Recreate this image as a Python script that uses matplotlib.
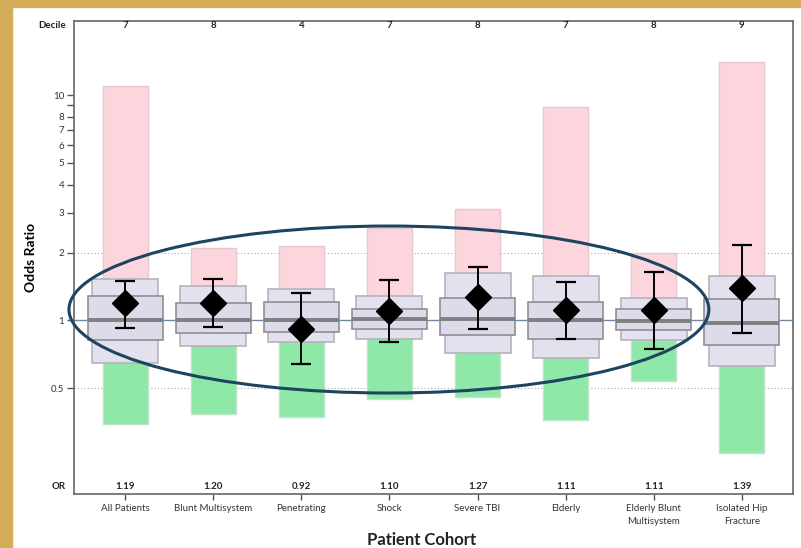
import numpy as np
import matplotlib.pyplot as plt
from matplotlib.patches import Ellipse, Rectangle
from matplotlib.ticker import FixedLocator, NullLocator
import matplotlib.transforms as mtransforms

plt.rcParams['font.family'] = ['Lato', 'DejaVu Sans']

cohorts = ['All Patients', 'Blunt Multisystem', 'Penetrating', 'Shock', 'Severe TBI',
           'Elderly', 'Elderly Blunt\nMultisystem', 'Isolated Hip\nFracture']
deciles = [7, 8, 4, 7, 8, 7, 8, 9]
odds = [1.19, 1.20, 0.92, 1.10, 1.27, 1.11, 1.11, 1.39]
ci_lo = [0.93, 0.94, 0.64, 0.80, 0.92, 0.83, 0.75, 0.88]
ci_hi = [1.50, 1.52, 1.33, 1.51, 1.73, 1.48, 1.64, 2.16]
# range across hospitals (pink = above 1, green = below 1)
range_hi = [10.97, 2.09, 2.13, 2.56, 3.11, 8.88, 1.99, 14.0]
range_lo = [0.346, 0.386, 0.373, 0.450, 0.456, 0.363, 0.541, 0.258]
# outer and inner boxes + median
outer_lo = [0.65, 0.77, 0.80, 0.83, 0.72, 0.68, 0.82, 0.63]
outer_hi = [1.53, 1.42, 1.38, 1.28, 1.62, 1.58, 1.26, 1.58]
inner_lo = [0.82, 0.88, 0.89, 0.92, 0.86, 0.83, 0.91, 0.78]
inner_hi = [1.29, 1.20, 1.21, 1.13, 1.26, 1.21, 1.13, 1.24]
medians = [1.01, 1.00, 1.00, 1.02, 1.02, 1.00, 0.99, 0.97]

fig = plt.figure(figsize=(8.01, 5.48), dpi=100)
fig.patches.append(Rectangle((0, 1 - 7 / 548), 1, 7 / 548, transform=fig.transFigure,
                             color='#d3ad57', zorder=0))
fig.patches.append(Rectangle((0, 0), 12 / 801, 1, transform=fig.transFigure,
                             color='#d3ad57', zorder=0))

ax = fig.add_axes([74 / 801, 1 - 494 / 548, 719 / 801, 473 / 548])
ax.set_yscale('log')
ax.set_ylim(0.170, 21.3)
ax.set_xlim(-0.58, 7.58)

x = np.arange(len(cohorts))
bw = 0.51
ow = 0.75
iw = 0.85

ax.bar(x, np.array(range_hi) - 1, bottom=1, width=bw, color='#fcd5dd',
       edgecolor='#e8c6cd', linewidth=1, zorder=1)
ax.bar(x, 1 - np.array(range_lo), bottom=range_lo, width=bw, color='#8ee8a8',
       edgecolor='#c0e3ca', linewidth=1, zorder=1)

ax.axhline(1, color='#6d8ca5', lw=1, zorder=1.5)
for g in [2, 0.5]:
    ax.axhline(g, color='#aaaaaa', lw=0.8, ls=(0, (1, 2)), zorder=0.5)

ax.bar(x, np.array(outer_hi) - np.array(outer_lo), bottom=outer_lo, width=ow,
       color='#e4e1ef', edgecolor='#b5b3bd', linewidth=1.2, zorder=2)
ax.bar(x, np.array(inner_hi) - np.array(inner_lo), bottom=inner_lo, width=iw,
       color='#dddbea', edgecolor='#8f8e96', linewidth=1.2, zorder=3)
ax.hlines(medians, x - iw / 2, x + iw / 2, color='#808080', lw=2.8, zorder=4)

err = [np.array(odds) - np.array(ci_lo), np.array(ci_hi) - np.array(odds)]
ax.errorbar(x, odds, yerr=err, fmt='none', ecolor='black', elinewidth=1.4,
            capsize=7, capthick=1.6, zorder=5)
ax.plot(x, odds, 'D', color='black', ms=13.5, zorder=6)

# top / bottom annotation rows
tr = mtransforms.blended_transform_factory(ax.transData, ax.transAxes)
for xi, d, o in zip(x, deciles, odds):
    ax.text(xi, 0.9915, str(d), transform=tr, ha='center', va='center',
            fontsize=7, fontweight='bold', color='#222222')
    ax.text(xi, 0.0155, f'{o:.2f}', transform=tr, ha='center', va='center',
            fontsize=7, fontweight='bold', color='#222222')
ax.text(-0.011, 0.9915, 'Decile', transform=ax.transAxes, ha='right', va='center',
        fontsize=7, fontweight='bold', color='#222222')
ax.text(-0.011, 0.0155, 'OR', transform=ax.transAxes, ha='right', va='center',
        fontsize=7, fontweight='bold', color='#222222')

ax.add_patch(Ellipse((0.438, 0.390), 0.890, 0.353, transform=ax.transAxes,
                     fill=False, edgecolor='#1d4560', lw=2.2, zorder=7, clip_on=False))

yt = [0.5, 1, 2, 3, 4, 5, 6, 7, 8, 9, 10]
ax.yaxis.set_major_locator(FixedLocator(yt))
ax.yaxis.set_minor_locator(NullLocator())
ax.set_yticklabels(['0.5', '1', '2', '3', '4', '5', '6', '7', '8', '', '10'])
ax.set_xticks(x)
ax.set_xticklabels(cohorts)
for t in ax.get_xticklabels():
    t.set_linespacing(1.6)
ax.tick_params(axis='y', labelsize=7, colors='#555555', labelcolor='#333333',
               length=5, width=1, direction='out', pad=2)
ax.tick_params(axis='x', labelsize=7, colors='#555555', labelcolor='#333333',
               length=4, width=1, direction='out', pad=3)
for s in ax.spines.values():
    s.set_color('#666666')
    s.set_linewidth(1.2)

ax.set_ylabel('Odds Ratio', fontsize=10, fontweight='bold', labelpad=10)
fig.text(422 / 801, 1 - 540 / 548, 'Patient Cohort', ha='center', va='center',
         fontsize=12, fontweight='bold', color='#222222')

fig.savefig('out.png', dpi=100)
